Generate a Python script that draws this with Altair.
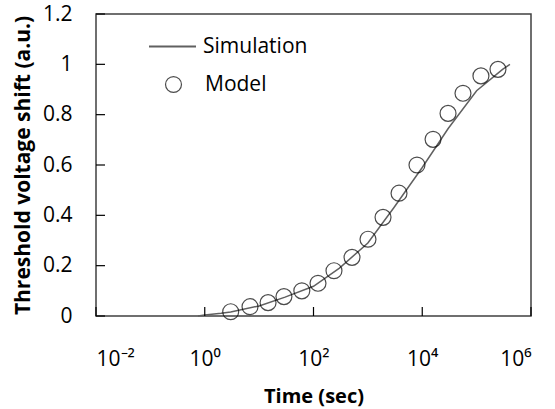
import altair as alt
import pandas as pd

# Model (circles)
model_time = [3.0, 6.8, 14.6, 28.6, 61, 121, 238, 511, 1005, 1900, 3740, 8000,
              15800, 29800, 56100, 120000, 247000]
model_shift = [0.017, 0.037, 0.053, 0.077, 0.10, 0.13, 0.18, 0.233, 0.305, 0.392,
               0.488, 0.60, 0.702, 0.805, 0.885, 0.954, 0.98]

# Simulation (line)
sim_time = [0.75, 1, 2, 3, 10, 30, 100, 300, 1000, 3000, 10000, 30000, 100000,
            300000, 410000]
sim_shift = [0.0, 0.004, 0.011, 0.016, 0.04, 0.075, 0.118, 0.19, 0.29, 0.43,
             0.59, 0.745, 0.895, 0.98, 1.0]

x_tick_values = [0.01, 1, 100, 10000, 1000000]
x_tick_labels = ["10⁻²", "10⁰", "10²", "10⁴", "10⁶"]
y_tick_values = [0, 0.2, 0.4, 0.6, 0.8, 1.0, 1.2]

W, H = 435, 302
FONT = "Open Sans"

model_df = pd.DataFrame({"t": model_time, "v": model_shift, "series": "Model"})
sim_df = pd.DataFrame({"t": sim_time, "v": sim_shift, "series": "Simulation"})
xt_df = pd.DataFrame({"t": x_tick_values})
yt_df = pd.DataFrame({"v": y_tick_values})

label_expr = " : ".join(
    f"datum.value < {v * 3} ? '{l}'" for v, l in zip(x_tick_values[:-1], x_tick_labels[:-1])
) + f" : '{x_tick_labels[-1]}'"

x_scale = alt.Scale(type="log", domain=[0.01, 1000000])
y_scale = alt.Scale(domain=[0, 1.2])

x_axis = alt.Axis(values=x_tick_values, labelExpr=label_expr, ticks=False, domain=False,
                  grid=False, labelFont=FONT, labelFontSize=21, labelColor="black",
                  labelPadding=32, title="Time (sec)", titleFont=FONT, titleFontSize=20,
                  titleFontWeight="bold", titleColor="black", titlePadding=17)
y_axis = alt.Axis(values=y_tick_values, format="~g", ticks=False, domain=False, grid=False,
                  labelFont=FONT, labelFontSize=21, labelColor="black", labelPadding=24,
                  title="Threshold voltage shift (a.u.)", titleFont=FONT, titleFontSize=21,
                  titleFontWeight="bold", titleColor="black", titlePadding=9)

X = alt.X("t:Q", scale=x_scale, axis=x_axis)
Y = alt.Y("v:Q", scale=y_scale, axis=y_axis)

line = alt.Chart(sim_df).mark_line(strokeWidth=1.5).encode(
    x=X,
    y=Y,
    color=alt.Color("series:N",
                    scale=alt.Scale(domain=["Simulation"], range=["#606060"]),
                    legend=alt.Legend(title=None, orient="none", legendX=52, legendY=8,
                                      symbolType="stroke", symbolSize=2209,
                                      symbolStrokeWidth=2, symbolStrokeColor="#808080",
                                      labelFont=FONT, labelFontSize=21, labelColor="black",
                                      labelOffset=6, padding=0)),
)

points = alt.Chart(model_df).mark_point(shape="circle", filled=False, size=254,
                                        color="black", strokeWidth=1.2).encode(
    x=X,
    y=Y,
    shape=alt.Shape("series:N",
                    scale=alt.Scale(domain=["Model"], range=["circle"]),
                    legend=alt.Legend(title=None, orient="none", legendX=67, legendY=60,
                                      symbolSize=254, symbolStrokeWidth=1.2,
                                      symbolStrokeColor="black", symbolFillColor="transparent",
                                      labelFont=FONT, labelFontSize=21, labelColor="black",
                                      labelOffset=21, padding=0)),
)

xticks = alt.Chart(xt_df).mark_rule(color="black", strokeWidth=1.2).encode(
    x=X,
    y=alt.value(H),
    y2=alt.value(H - 9),
)

yticks = alt.Chart(yt_df).mark_rule(color="black", strokeWidth=1.2).encode(
    y=Y,
    x=alt.value(0),
    x2=alt.value(9),
)

chart = alt.layer(line, points, xticks, yticks).properties(
    width=W, height=H,
    autosize=alt.AutoSizeParams(type="none"),
    padding={"left": 96, "top": 14, "right": 24, "bottom": 93},
    background="white",
).configure_view(stroke="#404040", strokeWidth=1.5)

chart.save("out.html", embed_options={"renderer": "svg", "actions": False})
